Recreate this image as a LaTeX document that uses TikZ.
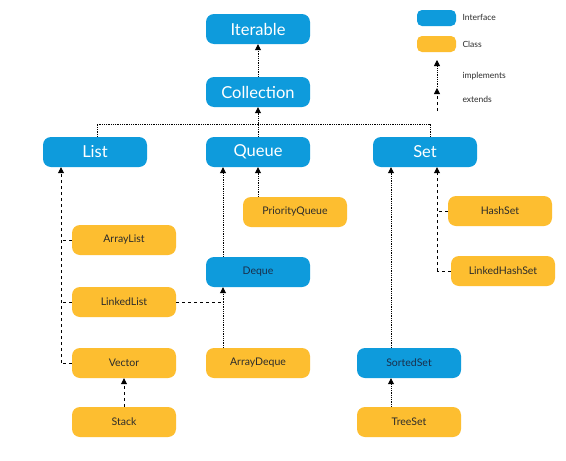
\documentclass[tikz,border=0pt]{standalone}
\usepackage{fontspec}
\setmainfont{Lato}
\usetikzlibrary{arrows.meta}
\definecolor{ifc}{HTML}{0E9BDC}
\definecolor{cls}{HTML}{FDBE30}
\definecolor{txt}{HTML}{2B2B2B}
\definecolor{dtxt}{HTML}{1A2E4A}
\tikzset{
  base/.style={rounded corners=8pt, minimum width=104pt, minimum height=30pt, inner sep=0pt, anchor=center},
  bigifc/.style={base, fill=ifc, text=white, font=\fontsize{16.5}{18}\selectfont},
  smallifc/.style={base, fill=ifc, text=dtxt, font=\fontsize{10.5}{12}\selectfont},
  clsbox/.style={base, fill=cls, text=txt, font=\fontsize{10.5}{12}\selectfont},
  impl/.style={densely dotted, line width=0.8pt},
  ext/.style={dash pattern=on 3pt off 3pt, line width=0.8pt},
  tip/.style={-{Triangle[width=6pt,length=6pt]}},
  legtxt/.style={font=\fontsize{8.5}{10}\selectfont, anchor=west, text=txt}
}
\begin{document}
\begin{tikzpicture}[x=1pt,y=-1pt]
\useasboundingbox (0,0) rectangle (566,461);
\fill[white] (0,0) rectangle (566,461);
% interfaces
\node[bigifc] (iter) at (258,29) {Iterable};
\node[bigifc] (coll) at (258,92) {Collection};
\node[bigifc] (list) at (95,152) {List};
\node[bigifc] (queue) at (258,152) {Queue};
\node[bigifc] (set) at (425,152) {Set};
\node[smallifc] (deque) at (258,272) {Deque};
\node[smallifc] (sorted) at (409,363) {SortedSet};
% classes
\node[clsbox] (pq) at (295,212) {PriorityQueue};
\node[clsbox] (alist) at (124,240) {ArrayList};
\node[clsbox] (llist) at (124,302) {LinkedList};
\node[clsbox] (vector) at (124,363) {Vector};
\node[clsbox] (stack) at (124,422) {Stack};
\node[clsbox] (adeque) at (258,363) {ArrayDeque};
\node[clsbox] (tree) at (409,422) {TreeSet};
\node[clsbox] (hset) at (500,211) {HashSet};
\node[clsbox] (lhset) at (503,271) {LinkedHashSet};
% legend
\node[base, fill=ifc, minimum width=39pt, minimum height=16pt, rounded corners=5pt] (legi) at (436.5,18) {};
\node[base, fill=cls, minimum width=39pt, minimum height=16pt, rounded corners=5pt] (legc) at (436.5,44) {};
\node[legtxt] (legit) at (459,17) {Interface};
\node[legtxt] (legct) at (459,44) {Class};
\coordinate (li1) at (437,87);
\coordinate (li2) at (437,60);
\coordinate (le1) at (437,111);
\coordinate (le2) at (437,88);
\draw[impl, tip] (li1) -- (li2);
\draw[ext, tip] (le1) -- (le2);
\node[legtxt] (legimp) at (459,76) {implements};
\node[legtxt] (legext) at (459,99) {extends};
% Collection -> Iterable
\draw[impl, tip] (coll.north) -- (iter.south);
% List/Queue/Set -> Collection
\coordinate (j) at (258,124);
\draw[impl] (list.north -| 97,0) |- (j);
\draw[impl] (set.north -| 430,0) |- (j);
\draw[impl, tip] (queue.north) -- (coll.south);
% list implementations
\coordinate (lb) at (61,363);
\draw[ext, tip] (lb) -- (list.south -| lb);
\draw[ext] (alist.west) -- (alist.west -| lb);
\draw[ext] (llist.west) -- (llist.west -| lb);
\draw[ext] (vector.west) -- (lb);
% Stack -> Vector
\draw[ext, tip] (stack.north) -- (vector.south);
% LinkedList -> Deque
\coordinate (dq) at (223,302);
\draw[ext] (llist.east) -- (dq);
\draw[impl] (adeque.north -| dq) -- (dq);
\draw[impl, tip] (dq) -- (deque.south -| dq);
% Deque -> Queue
\draw[impl, tip] (deque.north -| dq) -- (queue.south -| dq);
% PriorityQueue -> Queue
\draw[impl, tip] (pq.north -| 258,0) -- (queue.south);
% HashSet, LinkedHashSet -> Set
\coordinate (sb) at (437,271);
\draw[ext, tip] (sb) -- (set.south -| sb);
\draw[ext] (hset.west) -- (hset.west -| sb);
\draw[ext] (lhset.west) -- (sb);
% SortedSet -> Set
\coordinate (ss) at (391,300);
\draw[impl, tip] (sorted.north -| ss) -- (set.south -| ss);
% TreeSet -> SortedSet
\draw[impl, tip] (tree.north -| ss) -- (sorted.south -| ss);
\end{tikzpicture}
\end{document}
